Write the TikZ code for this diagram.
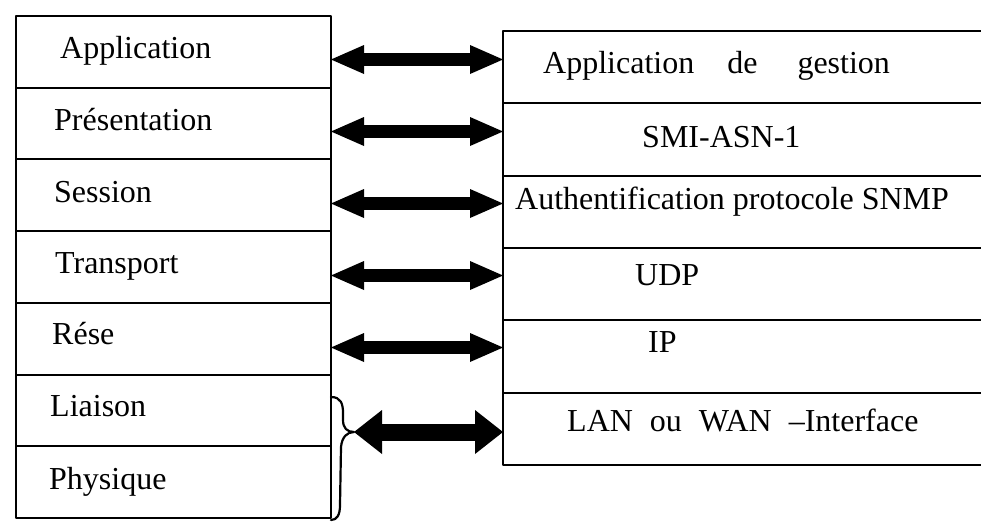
\documentclass[tikz,border=0pt]{standalone}
\usepackage{fontspec}
\setmainfont{Liberation Serif}
\usetikzlibrary{arrows.meta,calc}
\begin{document}
\begin{tikzpicture}[x=1pt,y=-1pt,line join=round,
  lbox/.style={draw,line width=2pt,minimum width=315pt,minimum height=71.7pt,anchor=north west,inner sep=0pt,outer sep=0pt},
  rbox/.style={minimum width=478pt,minimum height=72.3pt,anchor=north west,inner sep=0pt,outer sep=0pt},
  rline/.style={line width=2pt},
  txt/.style={font=\fontsize{32}{36}\selectfont,inner sep=0pt,anchor=base west},
  dbl/.style={line width=13pt,{Triangle[length=33pt,width=29pt,line width=0pt]}-{Triangle[length=33pt,width=29pt,line width=0pt]}},
  dblbig/.style={line width=17pt,{Triangle[length=28pt,width=44pt,line width=0pt]}-{Triangle[length=28pt,width=44pt,line width=0pt]}},
  bracestyle/.style={line width=2.2pt,line cap=round}]
\useasboundingbox (0,0) rectangle (981,523);
\fill[white] (0,0) rectangle (981,523);
% left column
\node[lbox] (l1) at (16,16) {};
\node[lbox] (l2) at (l1.south west) {};
\node[lbox] (l3) at (l2.south west) {};
\node[lbox] (l4) at (l3.south west) {};
\node[lbox] (l5) at (l4.south west) {};
\node[lbox] (l6) at (l5.south west) {};
\node[lbox] (l7) at (l6.south west) {};
\node[txt] (t1) at ([xshift=44pt,yshift=29pt]l1.south west) {Application};
\node[txt] (t2) at ([xshift=38pt,yshift=29pt]l2.south west) {Présentation};
\node[txt] (t3) at ([xshift=38pt,yshift=29pt]l3.south west) {Session};
\node[txt] (t4) at ([xshift=39pt,yshift=29pt]l4.south west) {Transport};
\node[txt] (t5) at ([xshift=36pt,yshift=30pt]l5.south west) {Rése};
\node[txt] (t6) at ([xshift=34pt,yshift=30pt]l6.south west) {Liaison};
\node[txt] (t7) at ([xshift=33pt,yshift=28pt]l7.south west) {Physique};
% right column
\node[rbox] (r1) at (503,31) {};
\node[rbox] (r2) at (r1.south west) {};
\node[rbox] (r3) at (r2.south west) {};
\node[rbox] (r4) at (r3.south west) {};
\node[rbox] (r5) at (r4.south west) {};
\node[rbox] (r6) at (r5.south west) {};
\foreach \r in {r1,r2,r3,r4,r5,r6}
  \draw[rline] (\r.north east) -- (\r.north west) -- (\r.south west) -- (\r.south east);
\node[txt] (s1) at ([xshift=40pt,yshift=30pt]r1.south west) {Application\hspace{33pt}de\hspace{40pt}gestion};
\node[txt] (s2) at ([xshift=139pt,yshift=28pt]r2.south west) {SMI-ASN-1};
\node[txt] (s3) at ([xshift=12pt,yshift=38pt]r3.south west) {Authentification protocole SNMP};
\node[txt] (s4) at ([xshift=132pt,yshift=35pt]r4.south west) {UDP};
\node[txt] (s5) at ([xshift=145pt,yshift=40pt]r5.south west) {IP};
\node[txt] (s6) at ([xshift=64pt,yshift=33pt]r6.south west) {LAN\hspace{17pt}ou\hspace{17pt}WAN\hspace{17pt}–Interface};
% arrows
\foreach \i in {1,...,5}{
  \coordinate (m\i) at ($(l\i.east)!.5!(r\i.west)$);
  \draw[dbl] (l\i.east |- m\i) -- (r\i.west |- m\i);
}
% brace
\coordinate (bt) at (354,432);
\draw[bracestyle] (331,397) .. controls (341,397) and (343,404) .. (343,413)
  -- (343,420) .. controls (343,428) and (347,432) .. (bt)
  .. controls (347,432) and (342,437) .. (341,447)
  -- (340,505) .. controls (340,515) and (337,520) .. (331,520);
\draw[dblbig] (bt) -- (r6.west |- bt);
\end{tikzpicture}
\end{document}
